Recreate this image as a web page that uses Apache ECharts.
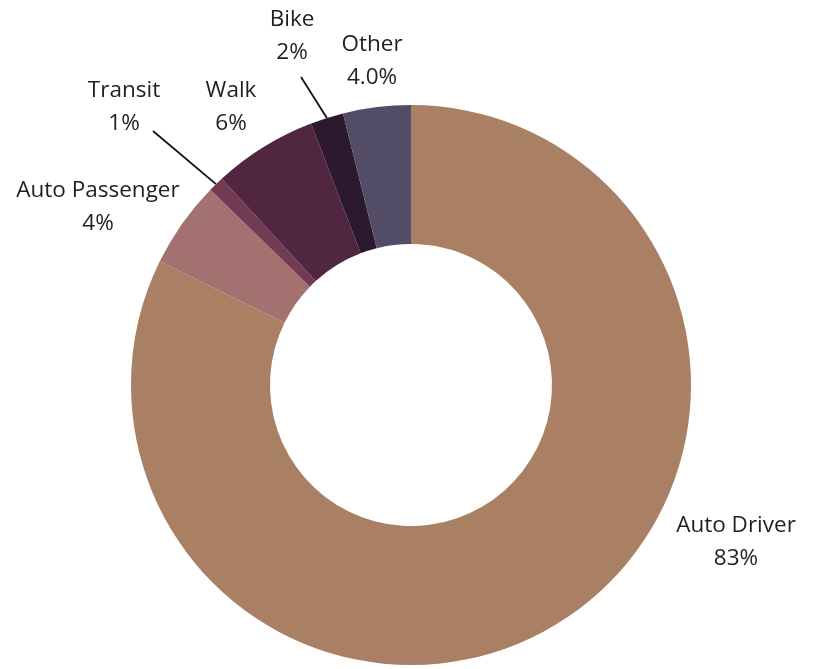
<!DOCTYPE html>
<html>
<head>
<meta charset="utf-8">
<script src="https://cdn.jsdelivr.net/npm/echarts@6/dist/echarts.min.js"></script>
<style>
html,body{margin:0;padding:0;background:#fff;}
#chart{width:815px;height:669px;}
</style>
</head>
<body>
<div id="chart"></div>
<script>
var categories = ["Auto Driver", "Auto Passenger", "Transit", "Walk", "Bike", "Other"];
var shares = [82.2, 5.0, 0.9, 6.0, 1.9, 3.9];
var shareLabels = ["83%", "4%", "1%", "6%", "2%", "4.0%"];
var colors = ["#A98063", "#A3716F", "#733A53", "#512640", "#2C192F", "#524C66"];
var leaderLines = [false, false, true, false, true, false];

var labelSpots = [
  {x: 736, y: 542, end: null},
  {x: 98, y: 207, end: null},
  {x: 124, y: 107, end: [153, 131]},
  {x: 231, y: 107, end: null},
  {x: 292, y: 36, end: [301, 77]},
  {x: 372, y: 61, end: null}
];

var chart = echarts.init(document.getElementById('chart'), null, {renderer: 'canvas'});
var seriesData = categories.map(function (c, i) {
  return {
    name: c,
    value: shares[i],
    itemStyle: {color: colors[i]},
    labelLine: {show: leaderLines[i]}
  };
});

chart.setOption({
  animation: false,
  backgroundColor: '#ffffff',
  series: [{
    type: 'pie',
    center: [411, 385],
    radius: [141, 280],
    startAngle: 90,
    clockwise: true,
    avoidLabelOverlap: false,
    itemStyle: {borderWidth: 0},
    label: {
      show: true,
      position: 'outside',
      fontFamily: 'Open Sans',
      fontSize: 22.5,
      lineHeight: 33,
      color: '#1f1f1f',
      align: 'center',
      formatter: function (p) {
        return categories[p.dataIndex] + '\n' + shareLabels[p.dataIndex];
      }
    },
    labelLine: {
      lineStyle: {color: '#111', width: 1.8}
    },
    labelLayout: function (p) {
      var s = labelSpots[p.dataIndex];
      var out = {x: s.x, y: s.y, align: 'center', verticalAlign: 'middle'};
      if (s.end && p.labelLinePoints) {
        var start = p.labelLinePoints[0];
        out.labelLinePoints = [start, s.end, s.end];
      }
      return out;
    },
    data: seriesData
  }]
});
</script>
</body>
</html>
